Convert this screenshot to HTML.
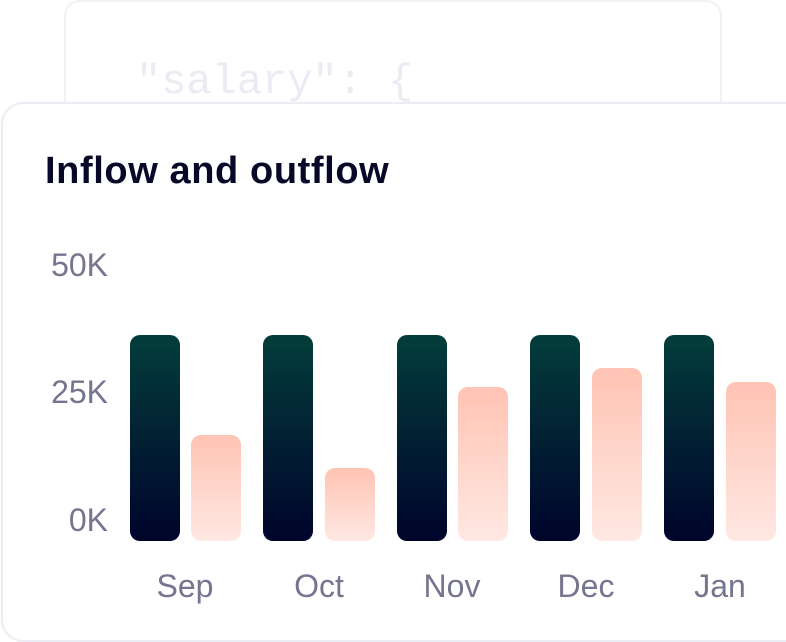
<!DOCTYPE html>
<html><head><style>
body{margin:0;width:786px;height:618px;background:#fff;position:relative;overflow:hidden;font-family:"Liberation Sans",sans-serif}
.back{position:absolute;left:64px;top:0;width:658px;height:200px;border:2px solid #f1f1f6;border-radius:16px;box-sizing:border-box}
.code{position:absolute;left:136px;top:58px;font-family:"Liberation Mono",monospace;font-size:42px;color:#ebebf3}
.card{position:absolute;left:1px;top:102px;width:820px;height:540px;border:2px solid #ececf4;border-radius:22px;background:#fff;box-sizing:border-box}
.title{position:absolute;left:45px;top:150px;font-size:38px;font-weight:bold;color:#080828;letter-spacing:0.6px}
.y{position:absolute;left:40px;font-size:32px;color:#75758f;width:68px;text-align:right}
.x{position:absolute;top:568px;font-size:32px;color:#75758f;width:100px;text-align:center}
.d,.p{position:absolute;width:50px;border-radius:10px}
.d{top:335px;height:206px;background:linear-gradient(#033d3b,#00042b)}
.p{bottom:77px;background:linear-gradient(#ffc3b3,#ffe8e3)}
</style></head><body>
<div class="back"></div>
<div class="code">"salary": {</div>
<div class="card"></div>
<div class="title">Inflow and outflow</div>
<div class="y" style="top:247px">50K</div>
<div class="y" style="top:374px">25K</div>
<div class="y" style="top:502px">0K</div>
<div class="d" style="left:130px"></div><div class="p" style="left:191px;top:435px"></div>
<div class="d" style="left:263px"></div><div class="p" style="left:325px;top:468px"></div>
<div class="d" style="left:397px"></div><div class="p" style="left:458px;top:387px"></div>
<div class="d" style="left:530px"></div><div class="p" style="left:592px;top:368px"></div>
<div class="d" style="left:664px"></div><div class="p" style="left:726px;top:382px"></div>
<div class="x" style="left:135px">Sep</div>
<div class="x" style="left:269px">Oct</div>
<div class="x" style="left:402px">Nov</div>
<div class="x" style="left:536px">Dec</div>
<div class="x" style="left:670px">Jan</div>
</body></html>
